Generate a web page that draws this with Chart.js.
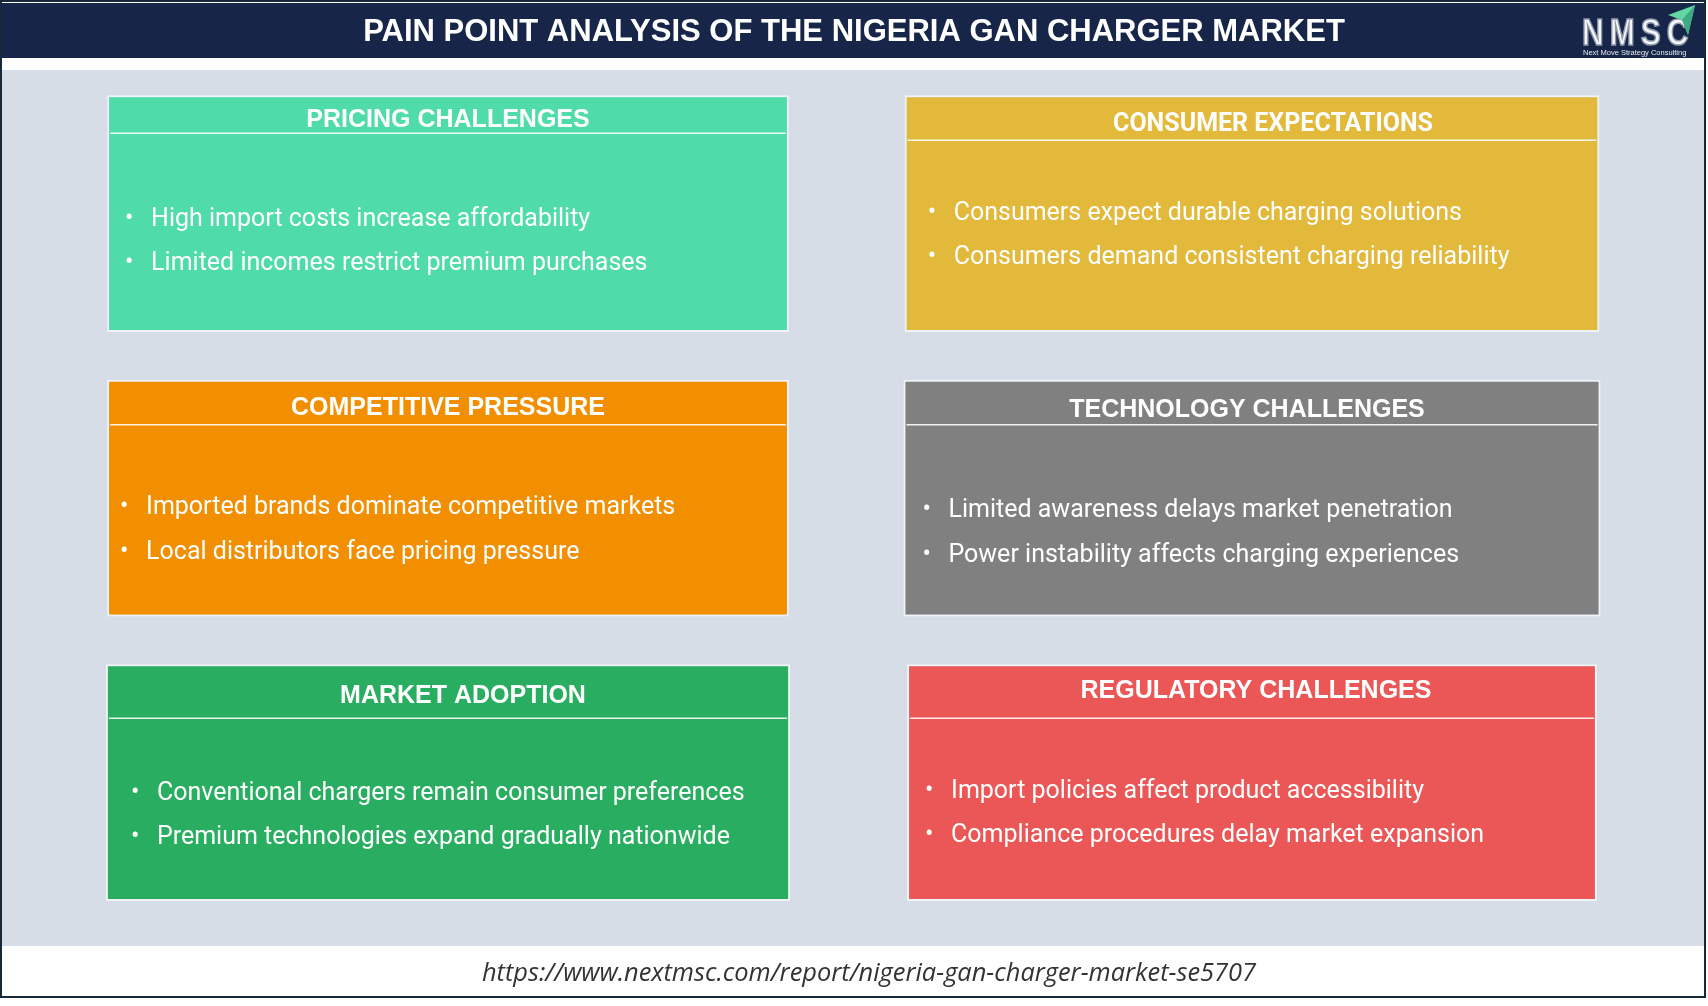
<!DOCTYPE html>
<html>
<head>
<meta charset="utf-8">
<title>Pain Point Analysis of the Nigeria GaN Charger Market</title>
<script src="https://cdn.jsdelivr.net/npm/chart.js@4.4.1/dist/chart.umd.min.js"></script>
<style>
  html, body { margin: 0; padding: 0; background: #ffffff; overflow: hidden; }
  canvas { display: block; }
</style>
</head>
<body>
<canvas id="painChart" width="1708" height="1006"></canvas>
<script>
// ---- data ----
const chartTitle = "PAIN POINT ANALYSIS OF THE NIGERIA GAN CHARGER MARKET";
const sourceUrl = "https://www.nextmsc.com/report/nigeria-gan-charger-market-se5707";
const columns = ["Left", "Right"];
const panelTitles = [
  "PRICING CHALLENGES",
  "CONSUMER EXPECTATIONS",
  "COMPETITIVE PRESSURE",
  "TECHNOLOGY CHALLENGES",
  "MARKET ADOPTION",
  "REGULATORY CHALLENGES"
];
const panelPoints = [
  ["High import costs increase affordability", "Limited incomes restrict premium purchases"],
  ["Consumers expect durable charging solutions", "Consumers demand consistent charging reliability"],
  ["Imported brands dominate competitive markets", "Local distributors face pricing pressure"],
  ["Limited awareness delays market penetration", "Power instability affects charging experiences"],
  ["Conventional chargers remain consumer preferences", "Premium technologies expand gradually nationwide"],
  ["Import policies affect product accessibility", "Compliance procedures delay market expansion"]
];

// ---- styles / layout (not data) ----
const panelColors = ["#4fdca8", "#e3b93b", "#f18f01", "#808080", "#29ae61", "#eb5757"];
const panelWidthPct = [0.848, 0.864, 0.848, 0.867, 0.851, 0.858];
const titleFonts = [
  "bold 25px 'Liberation Sans', Arial, sans-serif",
  "bold 25px Roboto, 'Liberation Sans', sans-serif",
  "bold 25px 'Liberation Sans', Arial, sans-serif",
  "bold 25px 'Liberation Sans', Arial, sans-serif",
  "bold 25px 'Liberation Sans', Arial, sans-serif",
  "bold 25px 'Liberation Sans', Arial, sans-serif"
];
const headerLine = [38, 45, 45, 45, 54, 54];     // separator offset from box top
const titleY = [24.5, 29, 28, 30, 32, 27];        // title centre from box top
const titleShift = [0, 21, 0, -5, 15, 4];
const firstLine = [124, 118, 128, 131, 129, 127]; // first bullet from box top
const textIndent = [44, 49, 39, 45, 51, 44];
const LINE_GAP = 44.5;
const ROW_TOP = 0.082, ROW_BOTTOM = 0.914;

const datasets = panelTitles.map((t, i) => {
  const col = i % 2, row = Math.floor(i / 2);
  const data = columns.map((c, k) => (k === col ? [row + ROW_TOP, row + ROW_BOTTOM] : null));
  return {
    label: t,
    data: data,
    backgroundColor: panelColors[i],
    borderColor: "rgba(245,248,250,0.85)",
    borderWidth: 2,
    borderSkipped: false,
    grouped: false,
    categoryPercentage: 1,
    barPercentage: panelWidthPct[i]
  };
});

const framePlugin = {
  id: "frame",
  beforeDraw(chart) {
    const ctx = chart.ctx;
    ctx.save();
    ctx.fillStyle = "#ffffff";
    ctx.fillRect(0, 0, 1708, 1006);
    // grey panel area
    ctx.fillStyle = "#d6dde6";
    ctx.fillRect(2, 70, 1702, 876);
    // header band
    ctx.fillStyle = "#172648";
    ctx.fillRect(2, 3, 1702, 55);
    ctx.fillStyle = "#ffffff";
    ctx.font = "bold 31px 'Liberation Sans', Arial, sans-serif";
    ctx.textAlign = "center";
    ctx.textBaseline = "middle";
    ctx.fillText(chartTitle, 854, 32);
    // logo
    ctx.save();
    ctx.translate(1582, 45);
    ctx.scale(1, 1.25);
    ctx.font = "bold 30px 'Liberation Sans', Arial, sans-serif";
    ctx.textAlign = "left";
    ctx.textBaseline = "alphabetic";
    ctx.letterSpacing = "6px";
    ctx.lineWidth = 1.3;
    ctx.strokeStyle = "#8f98aa";
    ctx.fillStyle = "#f4f6f8";
    ctx.fillText("NMSC", 0, 0);
    ctx.strokeText("NMSC", 0, 0);
    ctx.restore();
    ctx.font = "7.5px 'Liberation Sans', Arial, sans-serif";
    ctx.textAlign = "left";
    ctx.fillStyle = "#e6e9ee";
    ctx.fillText("Next Move Strategy Consulting", 1583, 53);
    ctx.fillStyle = "#62d6a3";
    ctx.beginPath();
    ctx.moveTo(1695, 5);
    ctx.lineTo(1668, 15);
    ctx.lineTo(1682, 20);
    ctx.lineTo(1688, 35);
    ctx.closePath();
    ctx.fill();
    ctx.fillStyle = "#3fa982";
    ctx.beginPath();
    ctx.moveTo(1695, 5);
    ctx.lineTo(1682, 20);
    ctx.lineTo(1688, 35);
    ctx.closePath();
    ctx.fill();
    // footer
    ctx.fillStyle = "#333333";
    ctx.font = "italic 25.4px 'Open Sans', 'DejaVu Sans', sans-serif";
    ctx.textAlign = "center";
    ctx.fillText(sourceUrl, 869, 974);
    // outer frame
    ctx.strokeStyle = "#16283a";
    ctx.lineWidth = 2;
    ctx.strokeRect(1, 1, 1704, 996);
    ctx.restore();
  }
};

const textPlugin = {
  id: "panelText",
  afterDatasetsDraw(chart) {
    const ctx = chart.ctx;
    ctx.save();
    panelTitles.forEach((t, i) => {
      const bar = chart.getDatasetMeta(i).data[i % 2];
      if (!bar) return;
      const p = bar.getProps(["x", "y", "base", "width"], true);
      const left = p.x - p.width / 2, right = p.x + p.width / 2;
      const top = Math.min(p.y, p.base);
      // separator
      ctx.strokeStyle = "rgba(255,255,255,0.9)";
      ctx.lineWidth = 1.5;
      ctx.beginPath();
      ctx.moveTo(left + 3, top + headerLine[i]);
      ctx.lineTo(right - 3, top + headerLine[i]);
      ctx.stroke();
      // title
      ctx.fillStyle = "#ffffff";
      ctx.textAlign = "center";
      ctx.textBaseline = "middle";
      ctx.font = titleFonts[i];
      ctx.fillText(t, p.x + titleShift[i], top + titleY[i]);
      // bullets
      ctx.textAlign = "left";
      ctx.font = "25px Roboto, 'Noto Sans', sans-serif";
      panelPoints[i].forEach((line, k) => {
        const y = top + firstLine[i] + k * LINE_GAP;
        ctx.fillText("\u2022", left + textIndent[i] - 26, y);
        ctx.fillText(line, left + textIndent[i], y);
      });
    });
    ctx.restore();
  }
};

new Chart(document.getElementById("painChart"), {
  type: "bar",
  data: { labels: columns, datasets: datasets },
  options: {
    responsive: false,
    animation: false,
    devicePixelRatio: 1,
    layout: { padding: { left: 46, right: 54, top: 72, bottom: 80.5 } },
    plugins: { legend: { display: false }, tooltip: { enabled: false } },
    scales: {
      x: { type: "category", display: false },
      y: { type: "linear", display: false, min: 0, max: 3, reverse: true }
    }
  },
  plugins: [framePlugin, textPlugin]
});
</script>
</body>
</html>
